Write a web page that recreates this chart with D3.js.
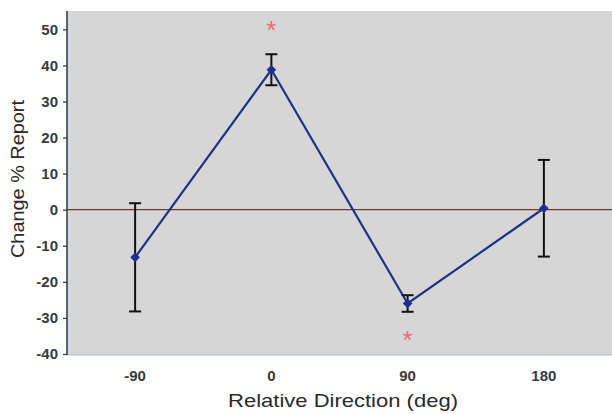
<!DOCTYPE html>
<html><head><meta charset="utf-8">
<script src="https://cdn.jsdelivr.net/npm/d3@7"></script>
<style>body{margin:0;background:#fff}svg{display:block}</style>
</head><body><svg id="c" width="612" height="414"></svg>
<script>
const categories = ["-90", "0", "90", "180"];
const means = [-13.2, 38.8, -26.0, 0.4];
const errors = [15.0, 4.3, 2.3, 13.4];
const sigLabels = ["", "*", "*", ""];
const sigValues = [null, 50.5, -35.5, null];
const yTicks = [-40, -30, -20, -10, 0, 10, 20, 30, 40, 50];

const svg = d3.select("#c");
const L = 67, R = 612, T = 11, B = 355;
const FONT = "Liberation Sans, Arial, sans-serif";
const x = d3.scaleBand().domain(categories).range([L, R]);
const y = d3.scaleLinear().domain([-40, 55]).range([354, 11.3]);

svg.append("rect").attr("x", L).attr("y", T).attr("width", R - L).attr("height", B - T).attr("fill", "#d6d6d6");
svg.append("line").attr("x1", L).attr("x2", R).attr("y1", B).attr("y2", B).attr("stroke", "#a9c0cc").attr("stroke-width", 1);

// zero line
svg.append("line").attr("x1", L).attr("x2", R).attr("y1", y(0)).attr("y2", y(0))
  .attr("stroke", "#6b3a30").attr("stroke-width", 1.2);

// y axis
const ya = svg.append("g").attr("transform", `translate(${L},0)`)
  .call(d3.axisLeft(y).tickValues(yTicks).tickFormat(d => String(d)).tickSize(4).tickPadding(5));
ya.select(".domain").attr("stroke", "#2a3a44").attr("stroke-width", 1.5).attr("d", `M0,${T}V${B}`);
ya.selectAll(".tick line").attr("stroke", "#2a3a44").attr("stroke-width", 1.2);
ya.selectAll(".tick text").attr("font-family", FONT).attr("font-size", 15).attr("font-weight", "bold").attr("fill", "#3a3a3a");

// x labels
svg.append("g").selectAll("text").data(categories).join("text")
  .attr("x", d => x(d) + x.bandwidth() / 2).attr("y", 381).attr("text-anchor", "middle")
  .attr("font-family", FONT).attr("font-size", 15).attr("font-weight", "bold").attr("fill", "#3a3a3a").text(d => d);

// titles
svg.append("text").attr("x", 343).attr("y", 407).attr("text-anchor", "middle")
  .attr("font-family", FONT).attr("font-size", 19).attr("fill", "#2a2a2a")
  .attr("textLength", 230).attr("lengthAdjust", "spacingAndGlyphs").text("Relative Direction (deg)");
svg.append("text").attr("transform", "translate(24,179) rotate(-90)").attr("text-anchor", "middle")
  .attr("font-family", FONT).attr("font-size", 19).attr("fill", "#2a2a2a")
  .attr("textLength", 158).attr("lengthAdjust", "spacingAndGlyphs").text("Change % Report");

const cx = i => x(categories[i]) + x.bandwidth() / 2;
const idx = d3.range(categories.length);

// line
svg.append("path").datum(idx)
  .attr("d", d3.line().x(i => cx(i)).y(i => y(means[i])))
  .attr("fill", "none").attr("stroke", "#1e3185").attr("stroke-width", 2.2);

// error bars
const eb = svg.append("g").attr("stroke", "#111").attr("stroke-width", 2);
idx.forEach(i => {
  const top = y(means[i] + errors[i]), bot = y(means[i] - errors[i]);
  eb.append("line").attr("x1", cx(i)).attr("x2", cx(i)).attr("y1", top).attr("y2", bot);
  eb.append("line").attr("x1", cx(i) - 6).attr("x2", cx(i) + 6).attr("y1", top).attr("y2", top);
  eb.append("line").attr("x1", cx(i) - 6).attr("x2", cx(i) + 6).attr("y1", bot).attr("y2", bot);
});

// markers
svg.append("g").selectAll("path").data(idx).join("path")
  .attr("transform", i => `translate(${cx(i)},${y(means[i])})`)
  .attr("d", d3.symbol(d3.symbolDiamond2, 60))
  .attr("fill", "#1e2f90");

// significance stars
svg.append("g").selectAll("text").data(idx.filter(i => sigValues[i] !== null)).join("text")
  .attr("x", i => cx(i)).attr("y", i => y(sigValues[i]) + 11).attr("text-anchor", "middle")
  .attr("font-family", FONT).attr("font-size", 26).attr("fill", "#e2707a")
  .text(i => sigLabels[i]);
</script></body></html>
